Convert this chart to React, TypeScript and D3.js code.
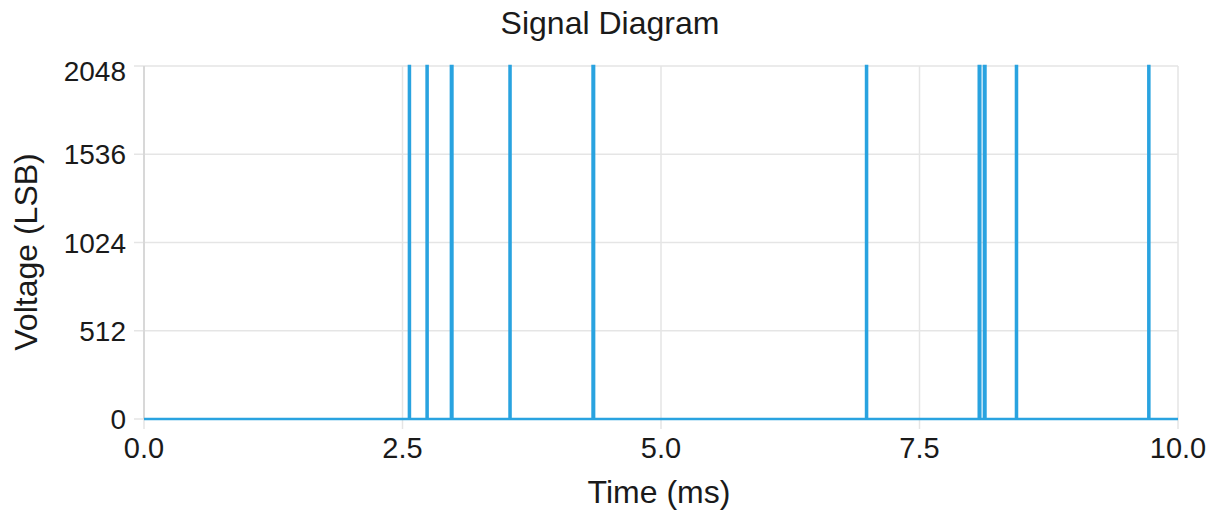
import React from "react";
import * as d3 from "d3";

const timeMs: number[] = [
  0, 2.562, 2.562, 2.572, 2.572, 2.733, 2.733, 2.743, 2.743,
  2.968, 2.968, 2.983, 2.983, 3.535, 3.535, 3.545, 3.545,
  4.338, 4.338, 4.353, 4.353, 6.983, 6.983, 6.993, 6.993,
  8.073, 8.073, 8.088, 8.088, 8.123, 8.123, 8.138, 8.138,
  8.433, 8.433, 8.443, 8.443, 9.713, 9.713, 9.723, 9.723, 10,
];
const voltageLsb: number[] = [
  0, 0, 2048, 2048, 0, 0, 2048, 2048, 0,
  0, 2048, 2048, 0, 0, 2048, 2048, 0,
  0, 2048, 2048, 0, 0, 2048, 2048, 0,
  0, 2048, 2048, 0, 0, 2048, 2048, 0,
  0, 2048, 2048, 0, 0, 2048, 2048, 0, 0,
];
const xTicks: number[] = [0, 2.5, 5, 7.5, 10];
const yTicks: number[] = [0, 512, 1024, 1536, 2048];

const W = 1207;
const H = 511;
const M = { left: 144, right: 29, top: 66, bottom: 92 };

export default function App() {
  const x = d3.scaleLinear().domain([0, 10]).range([M.left, W - M.right]);
  const y = d3.scaleLinear().domain([0, 2048]).range([H - M.bottom, M.top]);
  const pts = timeMs.map((t, i) => [t, voltageLsb[i]] as [number, number]);
  const line = d3
    .line<[number, number]>()
    .x((d) => x(d[0]))
    .y((d) => y(d[1]));
  const font = "'Liberation Sans', Arial, Helvetica, sans-serif";
  return (
    <svg
      width={W}
      height={H}
      style={{ position: "absolute", left: 0, top: 0, background: "#fff" }}
      fontFamily={font}
    >
      <text x={610} y={34} textAnchor="middle" fontSize={32} fill="#1a1a1a">
        Signal Diagram
      </text>
      {yTicks.map((v) => (
        <g key={"y" + v}>
          <line x1={M.left} x2={W - M.right} y1={y(v)} y2={y(v)} stroke="#e5e5e5" strokeWidth={1.5} />
          <line x1={M.left - 10} x2={M.left} y1={y(v)} y2={y(v)} stroke="#e5e5e5" strokeWidth={1.5} />
          <text x={126} y={y(v) + (v === 2048 ? 5 : 0)} dy="0.36em" textAnchor="end" fontSize={28} fill="#1a1a1a">
            {v}
          </text>
        </g>
      ))}
      {xTicks.map((v) => (
        <g key={"x" + v}>
          <line x1={x(v)} x2={x(v)} y1={M.top} y2={H - M.bottom} stroke="#e5e5e5" strokeWidth={1.5} />
          <line x1={x(v)} x2={x(v)} y1={H - M.bottom} y2={H - M.bottom + 10} stroke="#e5e5e5" strokeWidth={1.5} />
          <text x={x(v)} y={458} textAnchor="middle" fontSize={29} fill="#1a1a1a">
            {v.toFixed(1)}
          </text>
        </g>
      ))}
      <line x1={M.left} x2={M.left} y1={M.top} y2={H - M.bottom} stroke="#d8d8d8" strokeWidth={2} />
      <path d={line(pts) || ""} fill="none" stroke="#29a3e0" strokeWidth={2.5} strokeLinejoin="miter" />
      <text x={659} y={503} textAnchor="middle" fontSize={32} fill="#1a1a1a">
        Time (ms)
      </text>
      <text
        transform={`translate(37, 252) rotate(-90)`}
        textAnchor="middle"
        fontSize={32}
        fill="#1a1a1a"
      >
        Voltage (LSB)
      </text>
    </svg>
  );
}
